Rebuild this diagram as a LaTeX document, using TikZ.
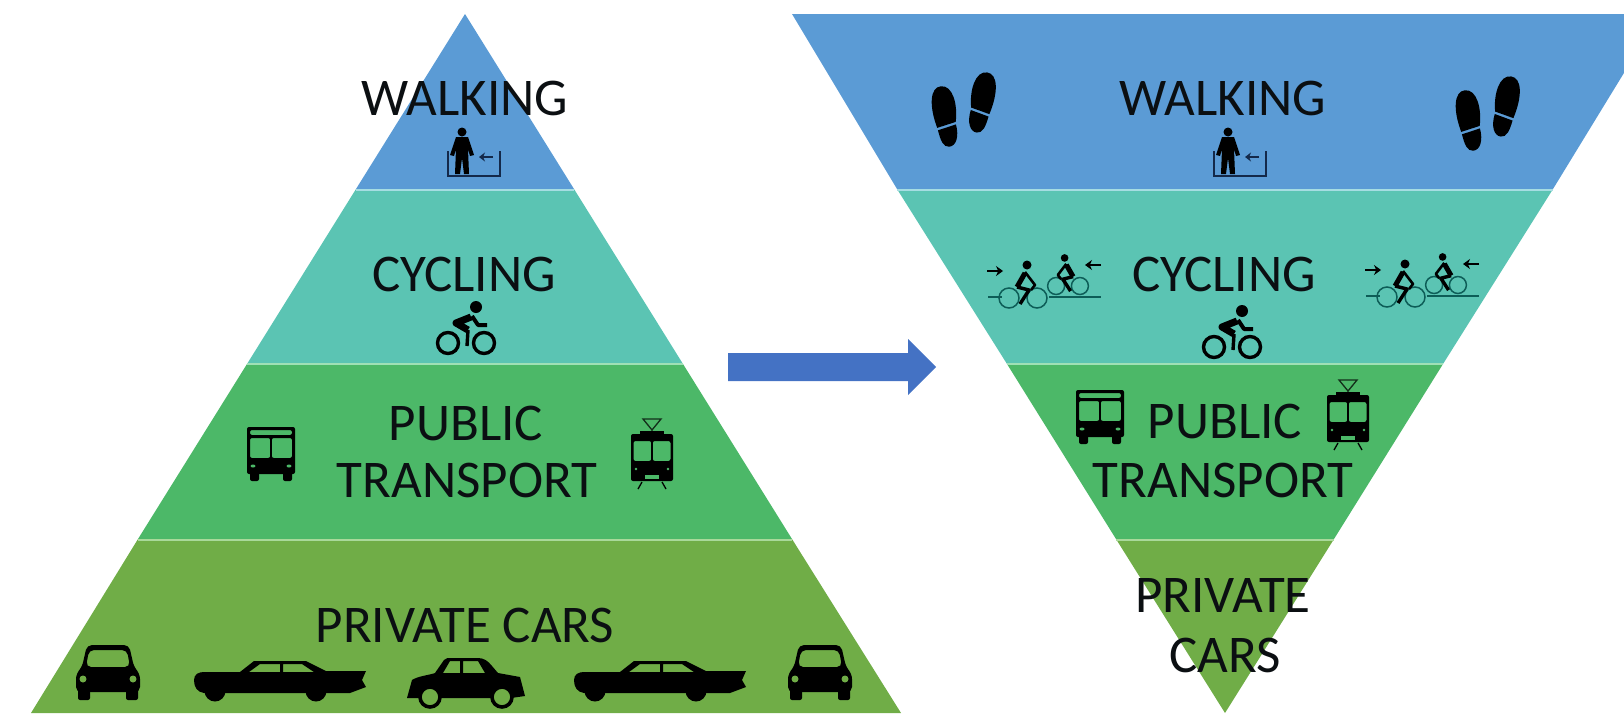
\documentclass[tikz,border=0pt]{standalone}
\usepackage{fontspec}
\setmainfont{Carlito}
\usetikzlibrary{arrows.meta}
\definecolor{tblue}{HTML}{5B9BD5}
\definecolor{tteal}{HTML}{5BC4B3}
\definecolor{tgreen}{HTML}{4CB868}
\definecolor{tolive}{HTML}{70AD47}
\definecolor{sepa}{HTML}{A6DDE2}
\definecolor{sepb}{HTML}{9FE0B6}
\definecolor{sepc}{HTML}{A9D99A}
\definecolor{tarrow}{HTML}{4472C4}
\definecolor{tink}{HTML}{0B0F12}
\definecolor{tnavy}{HTML}{14294A}
\definecolor{twheel}{HTML}{0D5D57}
\tikzset{
  lab/.style={font=\fontsize{53}{53}\selectfont, text=tink, inner sep=0pt, anchor=center},
  sepline/.style={line width=2pt},
  pics/foot/.style={code={
    \fill[black] (-1,-30) .. controls (-12,-30) and (-15,-12) .. (-9,11) -- (10,7)
       .. controls (14,-10) and (11,-30) .. (-1,-30) -- cycle;
    \fill[black] (-8.5,13.5) -- (10,9.5) .. controls (12,22) and (8,31) .. (1,31)
       .. controls (-5,31) and (-7,24) .. (-8.5,13.5) -- cycle;
  }},
  pics/feetpair/.style={code={
    \pic[rotate=6] at (0,0) {foot};
    \pic[rotate=-8, xscale=-1] at (37,-14) {foot};
  }},
  pics/walkbox/.style={code={
    \draw[tnavy, line width=2.6pt] (-26,-25) -- (-26,0) -- (26,0) -- (26,-25);
    \fill[black] (-12,-44) circle (4.5pt);
    \fill[black] (-18,-39) -- (-6,-39) -- (0,-21) -- (-4,-20) -- (-6,-27) -- (-5,-2)
       -- (-10,-2) -- (-12,-18) -- (-14,-2) -- (-19,-2) -- (-18,-27) -- (-20,-20) -- (-24,-21) -- cycle;
    \draw[tnavy, line width=2.8pt, -{Stealth[length=6pt,width=9pt]}] (19,-19) -- (5,-19);
  }},
  pics/cyclist/.style={code={
    \draw[black, line width=3.4pt] (-18,0) circle (10.5pt) (18,0) circle (10.5pt);
    \fill[black] (10,-36) circle (6pt);
    \draw[black, line width=7pt, line join=round] (5,-26) -- (-10,-20) -- (2,-13);
    \draw[black, line width=3.4pt, line join=round] (2,-13) -- (1,3);
    \draw[black, line width=4pt, line join=round] (6,-27) -- (12,-18) -- (21,-18);
  }},
  pics/rider/.style={code={
    \draw[twheel, line width=1.5pt] (-14,0) circle (10pt) (14,0) circle (10pt);
    \fill[black] (4,-33) circle (4.5pt);
    \draw[black, line width=5pt, line join=round] (2,-25) -- (-6,-11);
    \draw[black, line width=2.6pt, line join=round] (2,-26) -- (12,-13) -- (8,-8);
    \draw[black, line width=3.4pt, line join=round] (-6,-11) -- (6,-8) -- (-3,6);
  }},
  pics/riders/.style={code={
    \draw[black, line width=2.8pt, -{Stealth[length=7pt,width=10pt]}] (0,-26) -- (16,-26);
    \draw[twheel, line width=1.2pt] (1,0) -- (15,0);
    \pic at (36,1) {rider};
    \draw[twheel, line width=1.2pt] (62,0) -- (114,0);
    \pic[scale=.85, xscale=-1] at (81,-11) {rider};
    \draw[black, line width=2.8pt, -{Stealth[length=7pt,width=10pt]}] (114,-32) -- (98,-32);
  }},
  pics/bus/.style={code={
    \fill[black, even odd rule, rounded corners=2pt]
      (-24,-27) rectangle (24,20)
      (-21,-24) rectangle (21,-19)
      (-21,-16) rectangle (-0.8,4)
      (0.8,-16) rectangle (21,4);
    \fill[black, rounded corners=2pt] (-21,18) rectangle (-12,27) (12,18) rectangle (21,27);
    \fill[tgreen] (-18,12) ellipse (2.5pt and 1.5pt) (18,12) ellipse (2.5pt and 1.5pt);
  }},
  pics/tram/.style={code={
    \draw[black!75!tgreen, line width=1.3pt] (0,-20) -- (0,-24) -- (-9,-35) -- (9,-35) -- (0,-24);
    \fill[black, even odd rule, rounded corners=2pt]
      (-21,-20) rectangle (21,27)
      (-18.5,-13) rectangle (-0.8,7)
      (0.8,-13) rectangle (18.5,7);
    \fill[black] (-12,-23) rectangle (12,-19);
    \fill[tgreen] (-7,21) rectangle (7,25);
    \fill[tgreen] (-16,15) circle (1.3pt) (16,15) circle (1.3pt);
    \draw[black, line width=1.3pt] (-10,28) -- (-14,35) (10,28) -- (14,35);
  }},
  pics/carfront/.style={code={
    \fill[black, even odd rule, rounded corners=5pt]
      (-21,-27) -- (21,-27) -- (26,-5) -- (32,2) -- (32,20) -- (-32,20) -- (-32,2) -- (-26,-5) -- cycle
      (-19,-22) -- (19,-22) -- (22,-5) -- (-22,-5) -- cycle;
    \fill[black, rounded corners=2pt] (-30,16) rectangle (-18,28) (18,16) rectangle (30,28);
    \fill[tolive] (-25,7) circle (3.5pt) (25,7) circle (3.5pt);
  }},
  pics/carlong/.style={code={
    \fill[black, even odd rule]
      (0,20) .. controls (0,14) and (5,12) .. (10,12) -- (46,12) -- (60,1) -- (112,1) -- (132,11)
      -- (172,11) -- (168,20) -- (172,27) -- (156,33) -- (10,33) .. controls (3,32) and (0,27) .. (0,20) -- cycle
      (55,12) -- (66,4) -- (86,4) -- (86,12) -- cycle
      (89,4) -- (108,4) -- (120,12) -- (89,12) -- cycle;
    \fill[black] (21,31) circle (10.5pt) (122,31) circle (10.5pt);
  }},
  pics/carsmall/.style={code={
    \fill[black, even odd rule]
      (1,40) -- (6,22) .. controls (12,18) and (24,17) .. (29,15) -- (38,2)
      .. controls (40,0) and (42,0) .. (44,0) -- (72,0) .. controls (78,0) and (82,3) .. (86,8)
      -- (92,15) -- (114,19) -- (119,38) -- (105,40) -- (15,40) -- cycle
      (37,15) -- (44,3) -- (54,3) -- (54,15) -- cycle
      (57,3) -- (72,3) -- (79,15) -- (57,15) -- cycle;
    \draw[black, fill=tolive, line width=3.6pt] (24,39) circle (10pt) (96,39) circle (10pt);
  }},
}
\begin{document}
\begin{tikzpicture}[x=1pt, y=-1pt]
\useasboundingbox (0,0) rectangle (1624,715);
\clip (0,0) rectangle (1624,715);
% left pyramid
\fill[tblue] (465,14) -- (574,189) -- (356,189) -- cycle;
\fill[tteal] (356,189) -- (574,189) -- (683,364) -- (247,364) -- cycle;
\fill[tgreen] (247,364) -- (683,364) -- (792,539) -- (138,539) -- cycle;
\fill[tolive] (138,539) -- (792,539) -- (901,713) -- (31,713) -- cycle;
\draw[sepline, sepa] (356,189.5) -- (574,189.5);
\draw[sepline, sepb] (247,364) -- (683,364);
\draw[sepline, sepc] (138,539.5) -- (792,539.5);
% right funnel
\fill[tblue] (792,14) -- (1660,14) -- (1553,189) -- (897,189) -- cycle;
\fill[tteal] (897,189) -- (1553,189) -- (1443,364) -- (1007,364) -- cycle;
\fill[tgreen] (1007,364) -- (1443,364) -- (1334,539) -- (1116,539) -- cycle;
\fill[tolive] (1116,539) -- (1334,539) -- (1225,713) -- cycle;
\draw[sepline, sepa] (897,189.5) -- (1553,189.5);
\draw[sepline, sepb] (1007,364) -- (1443,364);
\draw[sepline, sepc] (1116,539.5) -- (1334,539.5);
% arrow
\fill[tarrow] (728,353) -- (908,353) -- (908,339) -- (936,367) -- (908,395) -- (908,381) -- (728,381) -- cycle;
% labels left
\node[lab] (lw) at (465,98) {WALKING};
\node[lab] (lc) at (464,274) {CYCLING};
\node[lab] (lp) at (466,423) {PUBLIC};
\node[lab] (lt) at (467,480) {TRANSPORT};
\node[lab] (lv) at (465,625) {PRIVATE CARS};
% labels right
\node[lab] (rw) at (1223,98) {WALKING};
\node[lab] (rc) at (1224,274) {CYCLING};
\node[lab] (rp) at (1225,421) {PUBLIC};
\node[lab] (rt) at (1223,480) {TRANSPORT};
\node[lab] (rv) at (1223,595) {PRIVATE};
\node[lab] (rs) at (1225,655) {CARS};
% icons left
\pic at (474,176) {walkbox};
\pic at (466,343) {cyclist};
\pic at (271,454) {bus};
\pic at (652,454) {tram};
\pic at (108,672) {carfront};
\pic at (820,672) {carfront};
\pic at (194,660) {carlong};
\pic at (574,660) {carlong};
\pic at (406,658) {carsmall};
% icons right
\pic at (945,116) {feetpair};
\pic at (1469,120) {feetpair};
\pic at (987,297) {riders};
\pic at (1365,296) {riders};
\pic at (1240,176) {walkbox};
\pic at (1232,347) {cyclist};
\pic at (1100,417) {bus};
\pic at (1348,415) {tram};
\end{tikzpicture}
\end{document}
